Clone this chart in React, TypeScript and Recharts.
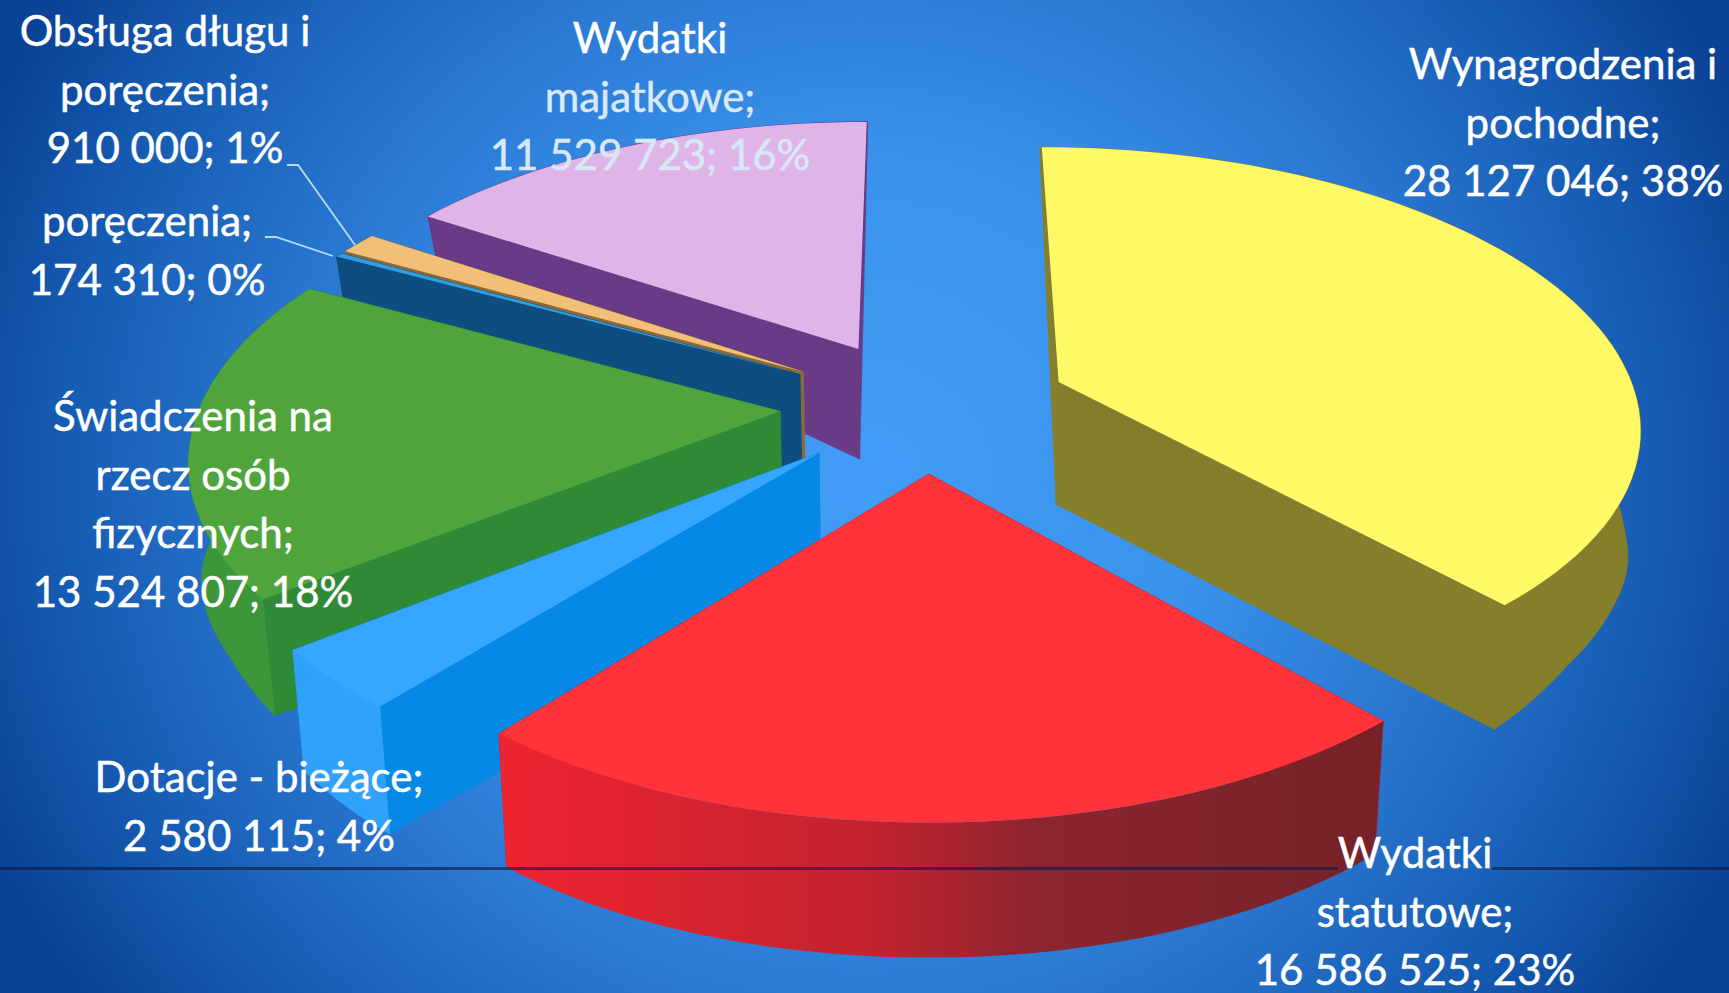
// App.tsx - exploded 3D-look pie of budget spending
import { PieChart, Pie } from "recharts";

// painter's order: back slices first, Pie runs counter-clockwise from 12 o'clock
const nameLines = [
  ["Wydatki", "majatkowe;"],
  ["Obsługa długu i", "poręczenia;"],
  ["poręczenia;"],
  ["Świadczenia na", "rzecz osób", "fizycznych;"],
  ["Dotacje - bieżące;"],
  ["Wydatki", "statutowe;"],
  ["Wynagrodzenia i", "pochodne;"],
];
const values = [11529723, 910000, 174310, 13524807, 2580115, 16586525, 28127046];

const topColors = ["#dfb5e9", "#f2bf78", "#2f9fe3", "#4fa53c", "#36a6ff", "#ff3339", "#fff966"];
const wallColors = ["#693b86", "#8a6a3a", "#0f4d80", "#2e8a35", "#0688e6", "#c8232f", "#857f2c"];
const rimColors = ["#693b86", "#8a6a3a", "#0f4d80", "#3d963a", "#31a2fb", "url(#redRim)", "#857f2c"];

// label anchor: centre x, first baseline
const labelAnchors = [
  [650, 53],
  [165, 46],
  [147, 236],
  [193, 431],
  [259, 792],
  [1415, 868],
  [1563, 79],
];
const lineHeight = 58.5;
const leaderLines: Record<number, string> = {
  1: "287,165 298,165 355,245",
  2: "265,237 276,237 333,256",
};

const WIDTH = 1729;
const HEIGHT = 993;
const CENTER_X = 920;
const CENTER_Y = 400.5;
const RADIUS = 580;
const EXPLODE_X = 0.25; // share of the radius
const EXPLODE_Y = 0.24;
const PERSPECTIVE = 0.146;
const FLATTEN = 0.475;

const data = values.map((value, i) => ({ name: nameLines[i].join(" "), value }));

const formatValue = (v: number) => String(v).replace(/\B(?=(\d{3})+$)/g, " ");

function project(X: number, Y: number, cx: number, cy: number, r: number) {
  const s = 1 / (1 + PERSPECTIVE * Y);
  const x = cx + r * X * s;
  const y = cy - r * FLATTEN * Y * s;
  // floor of the slab has its own, flatter projection
  const frontEase = Math.min(1, Math.max(0, -Y / 0.5));
  const backEase = Y > 0 ? Math.max(0, 1 - Y / 0.7) : Math.max(0, 1 + Y / 0.3);
  const floor = cy + r * 0.208 - r * 0.6 * Y - r * 0.053 * X * X * frontEase + r * 0.016 * backEase;
  return { x, y, xBottom: x - (x - cx) * 0.018, yBottom: Math.max(y, floor) };
}

const toPath = (pts: { x: number; y: number }[]) =>
  "M" + pts.map((p) => `${p.x.toFixed(1)},${p.y.toFixed(1)}`).join("L") + "Z";

function Slice3D(props: any) {
  const { cx, cy, outerRadius: r, startAngle, endAngle, index } = props;
  const rad = (d: number) => (d * Math.PI) / 180;
  const mid = rad((startAngle + endAngle) / 2);
  const ex = EXPLODE_X * Math.cos(mid);
  const ey = EXPLODE_Y * Math.sin(mid);

  const apex = project(ex, ey, cx, cy, r);
  const steps = Math.max(2, Math.ceil((endAngle - startAngle) / 2));
  const rim = [];
  for (let i = 0; i <= steps; i++) {
    const a = rad(startAngle + ((endAngle - startAngle) * i) / steps);
    rim.push(project(ex + Math.cos(a), ey + Math.sin(a), cx, cy, r));
  }
  const low = (p: any) => ({ x: p.xBottom, y: p.yBottom });
  const first = rim[0];
  const last = rim[rim.length - 1];
  const wall = wallColors[index];
  const seam = index === 5 ? "none" : rimColors[index];

  return (
    <g>
      <path d={toPath([apex, first, low(first), low(apex)])} fill={wall} stroke={wall} strokeWidth={0.8} />
      <path d={toPath([apex, last, low(last), low(apex)])} fill={wall} stroke={wall} strokeWidth={0.8} />
      <path d={toPath([...rim, ...rim.map(low).reverse()])} fill={rimColors[index]} stroke={seam} strokeWidth={0.8} />
      <path d={toPath([apex, ...rim])} fill={topColors[index]} />
    </g>
  );
}

function renderLabel(props: any) {
  const { index, value, percent } = props;
  const [x, y] = labelAnchors[index];
  const lines = [...nameLines[index], `${formatValue(value)}; ${Math.round(percent * 100)}%`];
  return (
    <g key={index}>
      {leaderLines[index] && (
        <polyline points={leaderLines[index]} fill="none" stroke="#b5dcf6" strokeWidth={1.8} />
      )}
      {lines.map((line, i) => {
        const color = index === 0 && i > 0 ? "#d8e8f6" : "#ffffff";
        return (
          <text
            key={i}
            x={x}
            y={y + i * lineHeight}
            textAnchor="middle"
            fontFamily="Lato"
            fontSize={42}
            fill={color}
            stroke={color}
            strokeWidth={0.5}
          >
            {line}
          </text>
        );
      })}
    </g>
  );
}

// the dark scan line stops where the "Wydatki" label sits on it
const scanLine = (left: number, width: number) => (
  <div
    style={{
      position: "absolute",
      left,
      top: 867,
      width,
      height: 3,
      background: "rgba(14,28,70,0.65)",
    }}
  />
);

export default function App() {
  return (
    <div
      style={{
        position: "absolute",
        left: 0,
        top: 0,
        width: WIDTH,
        height: HEIGHT,
        overflow: "hidden",
        background:
          "radial-gradient(ellipse 960px 900px at 50% 48%, #419df7 0%, #3a92ec 35%, #2a78d2 60%, #1559b0 85%, #0a4295 100%)",
      }}
    >
      <PieChart width={WIDTH} height={HEIGHT}>
        <defs>
          <linearGradient id="redRim" gradientUnits="userSpaceOnUse" x1={500} y1={0} x2={1380} y2={0}>
            <stop offset="0%" stopColor="#ee2430" />
            <stop offset="43%" stopColor="#c2232f" />
            <stop offset="60%" stopColor="#8d2530" />
            <stop offset="100%" stopColor="#752228" />
          </linearGradient>
        </defs>
        <Pie
          data={data}
          dataKey="value"
          cx={CENTER_X}
          cy={CENTER_Y}
          innerRadius={0}
          outerRadius={RADIUS}
          startAngle={90}
          endAngle={450}
          stroke="none"
          shape={Slice3D}
          label={renderLabel}
          labelLine={false}
          isAnimationActive={false}
        />
      </PieChart>
      {scanLine(0, 1338)}
      {scanLine(1492, WIDTH - 1492)}
    </div>
  );
}
